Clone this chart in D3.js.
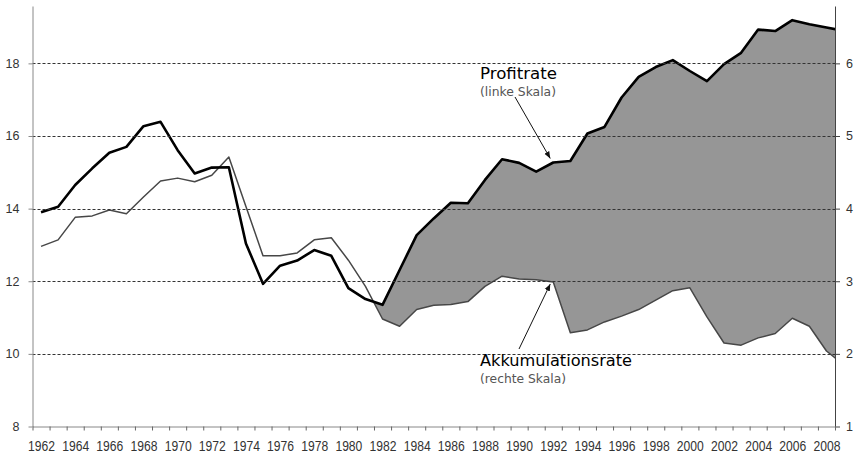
<!DOCTYPE html>
<html>
<head>
<meta charset="utf-8">
<script src="https://cdn.jsdelivr.net/npm/d3@7"></script>
<style>
  body { margin: 0; background: #fff; }
  svg { display: block; }
  .tick text { fill: #333; }
</style>
</head>
<body>
<svg id="chart" width="856" height="455"></svg>
<script>
// years; the last one only shows as the piece of line that runs into the right axis
var years = [1962, 1963, 1964, 1965, 1966, 1967, 1968, 1969, 1970, 1971,
             1972, 1973, 1974, 1975, 1976, 1977, 1978, 1979, 1980, 1981,
             1982, 1983, 1984, 1985, 1986, 1987, 1988, 1989, 1990, 1991,
             1992, 1993, 1994, 1995, 1996, 1997, 1998, 1999, 2000, 2001,
             2002, 2003, 2004, 2005, 2006, 2007, 2008, 2009];

// Profitrate, left scale
var profit = [13.90, 14.05, 14.65, 15.11, 15.54, 15.70, 16.27, 16.39, 15.61, 14.97,
              15.13, 15.14, 13.04, 11.93, 12.43, 12.57, 12.86, 12.70, 11.81, 11.51,
              11.35, 12.31, 13.27, 13.73, 14.16, 14.15, 14.79, 15.36, 15.26, 15.02,
              15.27, 15.31, 16.07, 16.25, 17.06, 17.63, 17.90, 18.09, 17.79, 17.51,
              17.98, 18.29, 18.93, 18.89, 19.19, 19.08, 18.99, 18.90];

// Akkumulationsrate, right scale
var accum = [3.48, 3.57, 3.88, 3.90, 3.98, 3.93, 4.16, 4.38, 4.42, 4.37,
             4.46, 4.71, 4.03, 3.35, 3.35, 3.39, 3.57, 3.60, 3.29, 2.93,
             2.48, 2.38, 2.61, 2.67, 2.68, 2.72, 2.93, 3.07, 3.03, 3.02,
             2.99, 2.29, 2.33, 2.44, 2.52, 2.61, 2.74, 2.87, 2.91, 2.51,
             2.15, 2.12, 2.22, 2.28, 2.49, 2.38, 2.04, 1.85];

var leftTicks = [8, 10, 12, 14, 16, 18];
var rightTicks = [1, 2, 3, 4, 5, 6];
var labelYears = [1962, 1964, 1966, 1968, 1970, 1972, 1974, 1976, 1978, 1980, 1982, 1984,
                  1986, 1988, 1990, 1992, 1994, 1996, 1998, 2000, 2002, 2004, 2006, 2008];
var firstYear = 1962, lastYear = 2008;
var fillFrom = 1981;

var svg = d3.select("#chart");
var pLeft = 32.5, pRight = 835, pTop = 6, pBottom = 426.5;

var x = d3.scaleLinear().domain([firstYear - 0.5, lastYear + 0.5]).range([pLeft, pRight]);
var yL = d3.scaleLinear().domain([8, 19.58]).range([pBottom, pTop]);
var yR = d3.scaleLinear().domain([1, 6.79]).range([pBottom, pTop]);

var defs = svg.append("defs");
defs.append("clipPath").attr("id", "plot")
  .append("rect").attr("x", pLeft).attr("y", pTop)
  .attr("width", pRight - pLeft).attr("height", pBottom - pTop);

var plot = svg.append("g").attr("clip-path", "url(#plot)");

// filled band between the two curves where profit lies above accumulation
var band = [];
var start = years.indexOf(fillFrom);
for (var i = start; i < years.length; i++) {
  var yp = yL(profit[i]), ya = yR(accum[i]);
  if (i > start) {
    var pp = yL(profit[i - 1]), pa = yR(accum[i - 1]);
    var d0 = pa - pp, d1 = ya - yp;
    if ((d0 < 0) !== (d1 < 0)) {
      var t = d0 / (d0 - d1);
      var xc = x(years[i - 1]) + t * (x(years[i]) - x(years[i - 1]));
      var yc = pp + t * (yp - pp);
      band.push({ x: xc, y0: yc, y1: yc });
    }
  }
  band.push({ x: x(years[i]), y0: ya, y1: Math.min(yp, ya) });
}

plot.append("path")
  .datum(band)
  .attr("fill", "#969696")
  .attr("d", d3.area().x(function (d) { return d.x; })
    .y0(function (d) { return d.y0; }).y1(function (d) { return d.y1; }));

// gridlines
svg.append("g").selectAll("line")
  .data(leftTicks.slice(1))
  .join("line")
  .attr("x1", pLeft).attr("x2", pRight)
  .attr("y1", function (d) { return Math.round(yL(d)) + 0.5; })
  .attr("y2", function (d) { return Math.round(yL(d)) + 0.5; })
  .attr("stroke", "#333")
  .attr("stroke-dasharray", "3,2");

var idx = d3.range(years.length);

plot.append("path")
  .datum(idx)
  .attr("fill", "none")
  .attr("stroke", "#474747")
  .attr("stroke-width", 1.5)
  .attr("stroke-linejoin", "round")
  .attr("d", d3.line().x(function (i) { return x(years[i]); })
    .y(function (i) { return yR(accum[i]); }));

plot.append("path")
  .datum(idx)
  .attr("fill", "none")
  .attr("stroke", "#000")
  .attr("stroke-width", 2.6)
  .attr("stroke-linejoin", "round")
  .attr("d", d3.line().x(function (i) { return x(years[i]); })
    .y(function (i) { return yL(profit[i]); }));

// axes
var gl = svg.append("g").attr("transform", "translate(" + pLeft + ",0)")
  .call(d3.axisLeft(yL).tickValues(leftTicks).tickFormat(d3.format("d"))
    .tickSize(4).tickSizeOuter(0).tickPadding(9));
var gr = svg.append("g").attr("transform", "translate(" + pRight + ",0)")
  .call(d3.axisRight(yR).tickValues(rightTicks).tickFormat(d3.format("d"))
    .tickSize(5).tickSizeOuter(0).tickPadding(6));
[gl, gr].forEach(function (g) {
  g.selectAll("text").attr("font-family", "Liberation Sans, Arial, sans-serif").attr("font-size", 12.5);
});
gl.select(".domain").attr("stroke", "#888");
gl.selectAll(".tick line").attr("stroke", "#888");
gr.select(".domain").attr("stroke", "#444");
gr.selectAll(".tick line").attr("stroke", "#444");

var boundaries = years.filter(function (y) { return y <= lastYear; })
  .map(function (y) { return y - 0.5; }).concat([lastYear + 0.5]);
var gb = svg.append("g").attr("transform", "translate(0," + pBottom + ")")
  .call(d3.axisBottom(x).tickValues(boundaries).tickFormat("").tickSize(4).tickSizeOuter(0));
gb.select(".domain").attr("stroke", "#888");
gb.selectAll(".tick line").attr("stroke", "#666");

var gbl = svg.append("g").attr("transform", "translate(0," + pBottom + ")")
  .call(d3.axisBottom(x).tickValues(labelYears).tickFormat(d3.format("d")).tickSize(0).tickPadding(15));
gbl.select(".domain").remove();
gbl.selectAll("text")
  .attr("font-family", "Liberation Sans, Arial, sans-serif")
  .attr("font-size", 14)
  .attr("textLength", 27)
  .attr("lengthAdjust", "spacingAndGlyphs");

// annotations
defs.append("marker")
  .attr("id", "arrow").attr("viewBox", "0 0 10 10")
  .attr("refX", 10).attr("refY", 5)
  .attr("markerWidth", 7).attr("markerHeight", 7)
  .attr("markerUnits", "userSpaceOnUse")
  .attr("orient", "auto")
  .append("path").attr("d", "M0,1 L10,5 L0,9 z").attr("fill", "#111");

var ann = svg.append("g").attr("font-family", "DejaVu Sans, Verdana, sans-serif");
ann.append("text").attr("x", 480).attr("y", 79).attr("font-size", 16)
  .attr("textLength", 77).attr("lengthAdjust", "spacingAndGlyphs").text("Profitrate");
ann.append("text").attr("x", 480).attr("y", 96).attr("font-size", 12).attr("fill", "#555")
  .attr("textLength", 76).attr("lengthAdjust", "spacingAndGlyphs").text("(linke Skala)");
ann.append("text").attr("x", 480).attr("y", 366).attr("font-size", 16)
  .attr("textLength", 152).attr("lengthAdjust", "spacingAndGlyphs").text("Akkumulationsrate");
ann.append("text").attr("x", 480).attr("y", 383).attr("font-size", 12).attr("fill", "#555")
  .attr("textLength", 86).attr("lengthAdjust", "spacingAndGlyphs").text("(rechte Skala)");

var i92 = years.indexOf(1992);
ann.append("line")
  .attr("x1", 515).attr("y1", 97)
  .attr("x2", x(1992) - 3).attr("y2", yL(profit[i92]) - 4)
  .attr("stroke", "#111").attr("stroke-width", 1)
  .attr("marker-end", "url(#arrow)");
ann.append("line")
  .attr("x1", 519).attr("y1", 349)
  .attr("x2", x(1992) - 3).attr("y2", yR(accum[i92]) + 2)
  .attr("stroke", "#111").attr("stroke-width", 1)
  .attr("marker-end", "url(#arrow)");
</script>
</body>
</html>
